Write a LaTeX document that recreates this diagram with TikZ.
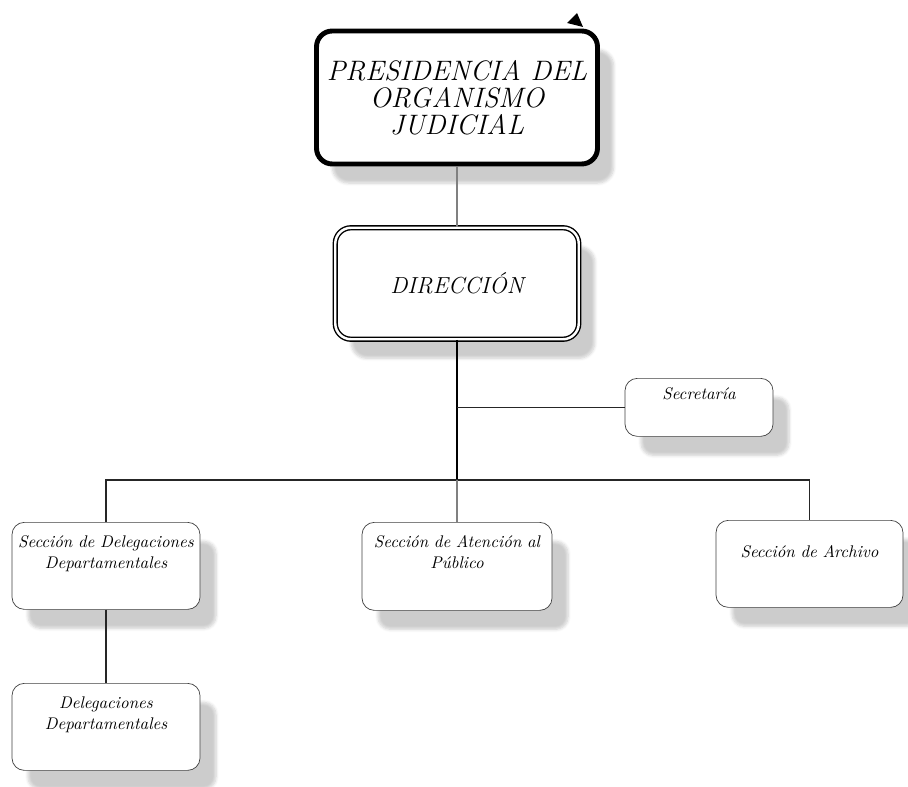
\documentclass[tikz,border=0pt]{standalone}
\usepackage{fontspec}
\usepackage{tikz}
\usetikzlibrary{positioning, shadows.blur}

\begin{document}
\begin{tikzpicture}[
    sombra/.style={blur shadow={shadow xshift=0.32cm, shadow yshift=-0.38cm, shadow opacity=20, shadow blur steps=6}},
    bigbox/.style={rectangle, draw, fill=white, rounded corners=9pt, align=center, sombra},
    unidad/.style={rectangle, draw=black!75, fill=white, rounded corners=7pt, anchor=north, inner xsep=0pt, inner ysep=0.12cm, text width=3.76cm, align=center, text height=0.38cm, text depth=1.12cm, font=\fontsize{9.6}{12.3}\selectfont\itshape, sombra},
    trunk/.style={line width=1.3pt},
    branch/.style={line width=0.7pt, black!85},
    soft/.style={line width=1pt, black!50}
]
\useasboundingbox (0,0) rectangle (18.16,-15.74);

\node[bigbox, line width=2.8pt, minimum width=5.62cm, minimum height=2.66cm, font=\fontsize{16}{15.5}\selectfont\itshape] (pres) at (9.14,-1.95) {PRESIDENCIA DEL\\ ORGANISMO\\ JUDICIAL};
\node[bigbox, double, double distance=1.4pt, line width=0.8pt, minimum width=4.87cm, minimum height=2.23cm, font=\fontsize{13.2}{15}\selectfont\itshape] (dir) at (9.14,-5.67) {DIRECCIÓN};

\node[unidad, text width=2.96cm, text height=0.30cm, text depth=0.62cm] (sec) at (13.98,-7.56) {Secretaría};
\node[unidad] (secdel) at (2.12,-10.44) {Sección de Delegaciones\\ Departamentales};
\node[unidad, text width=3.8cm, text depth=1.14cm] (aten) at (9.14,-10.44) {Sección de Atención al\\ Público};
\node[unidad, text width=3.74cm, text height=0.62cm, text depth=0.88cm] (arch) at (16.19,-10.40) {Sección de Archivo};
\node[unidad] (deleg) at (2.12,-13.66) {Delegaciones\\ Departamentales};

\coordinate (bus) at (9.14,-9.6);

\draw[soft] (pres) -- (dir);
\draw[trunk] (dir) -- (bus);
\draw[branch] (dir.south |- sec.west) -- (sec);
\draw[branch] (secdel.north) |- (bus) -| (arch.north);
\draw[soft] (bus) -- (aten);
\draw[branch] (secdel) -- (deleg);

% marca sobre el borde superior
\fill (11.34,-0.46) -- (11.54,-0.26) -- (11.66,-0.54) -- cycle;
\end{tikzpicture}
\end{document}
